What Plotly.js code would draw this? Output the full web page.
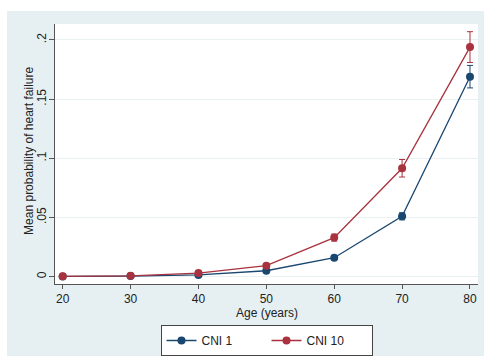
<!DOCTYPE html>
<html>
<head>
<meta charset="utf-8">
<script src="https://cdn.plot.ly/plotly-3.0.1.min.js"></script>
<style>
html, body { margin: 0; padding: 0; background: #ffffff; width: 484px; height: 356px; overflow: hidden; }
#chart { position: absolute; left: 7px; top: 11px; width: 477px; height: 345px; }
</style>
</head>
<body>
<div id="chart"></div>
<script>
const ages = [20, 30, 40, 50, 60, 70, 80];
const cni1 = [0.0002, 0.0005, 0.0015, 0.005, 0.016, 0.051, 0.169];
const cni1Err = [0.0001, 0.0002, 0.0004, 0.001, 0.0015, 0.003, 0.0095];
const cni10 = [0.0003, 0.0007, 0.003, 0.0093, 0.033, 0.0916, 0.194];
const cni10Err = [0.0001, 0.0002, 0.0007, 0.0015, 0.003, 0.0074, 0.013];
const yTicks = [0, 0.05, 0.1, 0.15, 0.2];
const yTickText = ['0', '.05', '.1', '.15', '.2'];
const xTicks = [20, 30, 40, 50, 60, 70, 80];
const seriesNames = ['CNI 1', 'CNI 10'];
const yTitle = 'Mean probability of heart failure';
const xTitle = 'Age (years)';

const navy = '#1a476f';
const maroon = '#a8323e';

function series(y, err, name, color) {
  return {
    x: ages, y: y, name: name, type: 'scatter', mode: 'lines+markers',
    line: {color: color, width: 1.3},
    marker: {color: color, size: 8, symbol: 'circle'},
    error_y: {type: 'data', array: err, visible: true, color: color, thickness: 1, width: 3}
  };
}

const data = [
  series(cni1, cni1Err, seriesNames[0], navy),
  series(cni10, cni10Err, seriesNames[1], maroon)
];

const layout = {
  width: 477, height: 345,
  margin: {l: 48, r: 6, t: 13, b: 72},
  paper_bgcolor: '#e6f0f2',
  plot_bgcolor: '#ffffff',
  font: {family: '"Liberation Sans", Arial, sans-serif', size: 12, color: '#222'},
  showlegend: true,
  xaxis: {
    range: [18.87, 81.18], tickvals: xTicks, ticks: 'outside', ticklen: 4, tickcolor: '#555',
    showline: true, linecolor: '#555', linewidth: 1, showgrid: false, zeroline: false,
    tickfont: {size: 12, color: '#222'}, ticklabelstandoff: 0, automargin: false
  },
  yaxis: {
    range: [-0.0062, 0.2135], tickvals: yTicks, ticktext: yTickText, tickangle: -90,
    ticks: 'outside', ticklen: 5, tickcolor: '#555', automargin: false,
    showline: true, linecolor: '#555', linewidth: 1,
    showgrid: true, gridcolor: '#e9f1f3', gridwidth: 1, zeroline: false,
    tickfont: {size: 12, color: '#222'}, ticklabelstandoff: -2
  },
  annotations: [{
    text: yTitle, xref: 'paper', yref: 'paper', x: 0, y: 0.51,
    xanchor: 'center', yanchor: 'middle', xshift: -25.5, textangle: -90,
    showarrow: false, font: {size: 12, color: '#222'}
  }, {
    text: xTitle, xref: 'paper', yref: 'paper', x: 0.5, y: 0,
    xanchor: 'center', yanchor: 'middle', yshift: -29,
    showarrow: false, font: {size: 12, color: '#222'}
  }],
  legend: {
    orientation: 'h', x: 0.5, xanchor: 'center', xref: 'paper',
    y: 0.0899, yanchor: 'top', yref: 'container',
    bgcolor: '#ffffff', bordercolor: '#444', borderwidth: 1,
    font: {size: 12, color: '#222'}, entrywidth: 60, tracegroupgap: 0,
    itemwidth: 30
  }
};

Plotly.newPlot('chart', data, layout, {displayModeBar: false, staticPlot: true});
</script>
</body>
</html>
